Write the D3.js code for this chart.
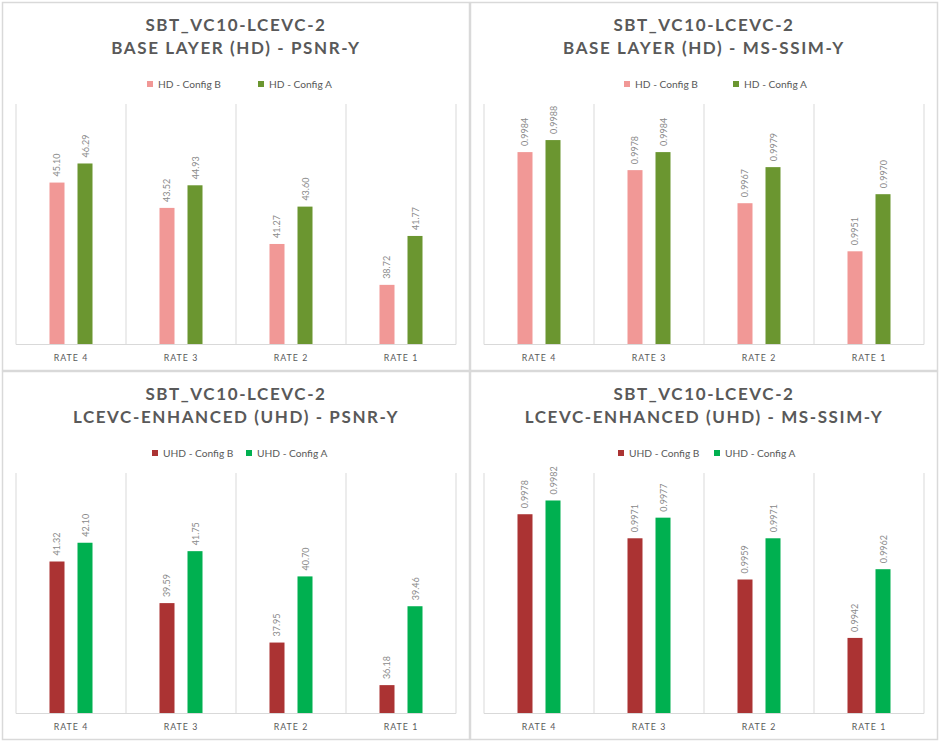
<!DOCTYPE html>
<html>
<head>
<meta charset="utf-8">
<script src="https://cdn.jsdelivr.net/npm/d3@7"></script>
<style>
  html, body { margin: 0; padding: 0; background: #ffffff; }
  svg { display: block; }
  text { font-family: Lato, "Open Sans", sans-serif; }
</style>
</head>
<body>
<svg id="chart" width="941" height="742"></svg>
<script>
// ---- data ----
const categories = ["RATE 4", "RATE 3", "RATE 2", "RATE 1"];
const titleLine1 = "SBT_VC10-LCEVC-2";

const hdPsnrConfigB = [45.10, 43.52, 41.27, 38.72];
const hdPsnrConfigA = [46.29, 44.93, 43.60, 41.77];
const hdSsimConfigB = [0.9984, 0.9978, 0.9967, 0.9951];
const hdSsimConfigA = [0.9988, 0.9984, 0.9979, 0.9970];
const uhdPsnrConfigB = [41.32, 39.59, 37.95, 36.18];
const uhdPsnrConfigA = [42.10, 41.75, 40.70, 39.46];
const uhdSsimConfigB = [0.9978, 0.9971, 0.9959, 0.9942];
const uhdSsimConfigA = [0.9982, 0.9977, 0.9971, 0.9962];

const hdSeriesNames = ["HD - Config B", "HD - Config A"];
const uhdSeriesNames = ["UHD - Config B", "UHD - Config A"];

const hdPsnrDomain = [35, 50];
const hdSsimDomain = [0.992, 1.0];
const uhdPsnrDomain = [35, 45];
const uhdSsimDomain = [0.992, 0.999];

// ---- panel table built from the arrays ----
const panels = [
  { title: "BASE LAYER (HD) - PSNR-Y", names: hdSeriesNames, series: [hdPsnrConfigB, hdPsnrConfigA],
    domain: hdPsnrDomain, decimals: 2, colors: ["#F19896", "#6B9630"], ox: 0, oy: 0, legX: 147, legStep: 111 },
  { title: "BASE LAYER (HD) - MS-SSIM-Y", names: hdSeriesNames, series: [hdSsimConfigB, hdSsimConfigA],
    domain: hdSsimDomain, decimals: 4, colors: ["#F19896", "#6B9630"], ox: 468, oy: 0, legX: 156, legStep: 109 },
  { title: "LCEVC-ENHANCED (UHD) - PSNR-Y", names: uhdSeriesNames, series: [uhdPsnrConfigB, uhdPsnrConfigA],
    domain: uhdPsnrDomain, decimals: 2, colors: ["#AB3333", "#00B050"], ox: 0, oy: 369, legX: 152, legStep: 94 },
  { title: "LCEVC-ENHANCED (UHD) - MS-SSIM-Y", names: uhdSeriesNames, series: [uhdSsimConfigB, uhdSsimConfigA],
    domain: uhdSsimDomain, decimals: 4, colors: ["#AB3333", "#00B050"], ox: 468, oy: 369, legX: 150, legStep: 96 }
];

const svg = d3.select("#chart");
const plotLeft = 16, plotRight = 456, plotTop = 104, plotBottom = 344.5;
const gridColor = "#d9d9d9";
const textColor = "#595959";

panels.forEach(p => {
  const g = svg.append("g").attr("transform", `translate(${p.ox},${p.oy})`);

  // panel border
  g.append("rect")
    .attr("x", 2.5).attr("y", 2.5)
    .attr("width", 467).attr("height", 368)
    .attr("fill", "#ffffff")
    .attr("stroke", gridColor).attr("stroke-width", 1.5);

  // title
  const t = g.append("text")
    .attr("text-anchor", "middle")
    .attr("font-weight", "bold")
    .attr("font-size", 17)
    .attr("letter-spacing", "1.6px")
    .attr("fill", textColor);
  t.append("tspan").attr("x", 236).attr("y", 31).text(titleLine1);
  t.append("tspan").attr("x", 236).attr("y", 54).text(p.title);

  // legend
  const leg = g.append("g");
  p.names.forEach((n, i) => {
    const lx = p.legX + i * p.legStep;
    leg.append("rect")
      .attr("x", lx).attr("y", 81)
      .attr("width", 6).attr("height", 6)
      .attr("fill", p.colors[i]);
    leg.append("text")
      .attr("x", lx + 11).attr("y", 84)
      .attr("dominant-baseline", "central")
      .attr("font-size", 10.2)
      .attr("fill", textColor)
      .text(n);
  });

  // scales
  const x0 = d3.scaleBand().domain(categories).range([plotLeft, plotRight]).paddingInner(0).paddingOuter(0);
  const x1 = d3.scaleBand().domain([0, 1]).range([0, x0.bandwidth()])
    .paddingInner(13 / 28).paddingOuter(1.196);
  const y = d3.scaleLinear().domain(p.domain).range([plotBottom, plotTop]);

  // vertical category dividers
  const edges = categories.map(c => x0(c)).concat([plotRight]);
  g.selectAll("line.div").data(edges).enter().append("line")
    .attr("x1", d => d).attr("x2", d => d)
    .attr("y1", plotTop).attr("y2", plotBottom)
    .attr("stroke", gridColor).attr("stroke-width", 1);

  // bars
  p.series.forEach((vals, si) => {
    g.selectAll(null).data(vals).enter().append("rect")
      .attr("x", (d, i) => x0(categories[i]) + x1(si))
      .attr("width", x1.bandwidth())
      .attr("y", d => y(d))
      .attr("height", d => plotBottom - y(d))
      .attr("fill", p.colors[si]);

    g.selectAll(null).data(vals).enter().append("text")
      .attr("transform", (d, i) => {
        const cx = x0(categories[i]) + x1(si) + x1.bandwidth() / 2;
        return `translate(${cx},${y(d) - 6}) rotate(-90)`;
      })
      .attr("text-anchor", "start")
      .attr("dominant-baseline", "central")
      .attr("font-size", 9)
      .attr("fill", "#8a8a8a")
      .text(d => d.toFixed(p.decimals));
  });

  // baseline
  g.append("line")
    .attr("x1", plotLeft).attr("x2", plotRight)
    .attr("y1", plotBottom).attr("y2", plotBottom)
    .attr("stroke", gridColor).attr("stroke-width", 1.2);

  // x axis labels
  const xAxis = d3.axisBottom(x0).tickSize(0).tickPadding(0);
  const ax = g.append("g").attr("transform", `translate(0,${plotBottom})`).call(xAxis);
  ax.select(".domain").remove();
  ax.selectAll("text")
    .attr("y", 14)
    .attr("dy", "0.32em")
    .attr("font-size", 8.8)
    .attr("letter-spacing", "1px")
    .attr("font-family", "Lato, sans-serif")
    .attr("fill", textColor);
});
</script>
</body>
</html>
